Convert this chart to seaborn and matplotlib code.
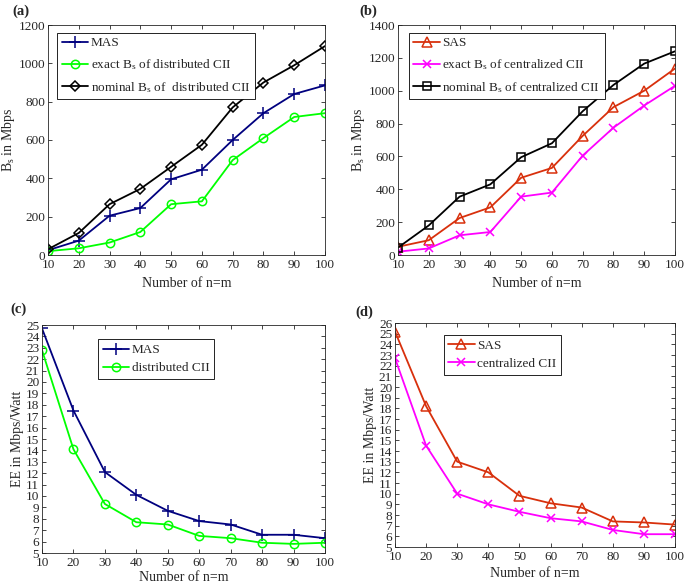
import numpy as np
import pandas as pd
import matplotlib
matplotlib.use('Agg')
import matplotlib.pyplot as plt
import seaborn as sns

# ---- data ----
n_vals = [10, 20, 30, 40, 50, 60, 70, 80, 90, 100]

mas_bs = [25, 75, 205, 245, 395, 445, 600, 740, 840, 885]
dist_exact_bs = [20, 35, 65, 120, 265, 280, 495, 610, 720, 740]
dist_nominal_bs = [30, 115, 265, 345, 460, 575, 770, 900, 990, 1090]

sas_bs = [50, 90, 225, 290, 470, 530, 725, 900, 1000, 1135]
cent_exact_bs = [20, 40, 120, 140, 355, 380, 605, 775, 910, 1030]
cent_nominal_bs = [45, 180, 355, 430, 595, 680, 875, 1035, 1165, 1240]

mas_ee = [24.7, 17.5, 12.1, 10.1, 8.7, 7.8, 7.5, 6.6, 6.6, 6.3]
dist_ee = [22.8, 14.1, 9.3, 7.7, 7.5, 6.5, 6.3, 5.9, 5.8, 5.9]

sas_ee = [25.2, 18.2, 13.0, 12.0, 9.8, 9.1, 8.7, 7.4, 7.3, 7.1]
cent_ee = [22.7, 14.5, 10.0, 9.0, 8.3, 7.7, 7.4, 6.6, 6.2, 6.2]

NAVY = '#00007f'
GREEN = '#00ff00'
RED = '#d8300c'
MAGENTA = '#ff00ff'

sns.set_style('ticks')
plt.rcParams['font.family'] = ['Liberation Serif', 'DejaVu Serif']
plt.rcParams['mathtext.fontset'] = 'custom'
plt.rcParams['mathtext.rm'] = 'Liberation Serif'
plt.rcParams['mathtext.it'] = 'Liberation Serif:italic'
plt.rcParams['xtick.direction'] = 'in'
plt.rcParams['ytick.direction'] = 'in'
plt.rcParams['xtick.top'] = True
plt.rcParams['ytick.right'] = True

FS = 9.5

fig = plt.figure(figsize=(6.85, 5.88), dpi=100)
W, H = 685.0, 588.0


def px_axes(l, t, r, b):
    return fig.add_axes([l / W, 1 - b / H, (r - l) / W, (b - t) / H])


def series(ax, y, color, marker, label, ms=6, hollow=False):
    sns.lineplot(x=n_vals, y=y, ax=ax, color=color, marker=marker, label=label,
                 linewidth=1.3, markersize=ms, markeredgecolor=color,
                 markeredgewidth=1.1,
                 markerfacecolor='none' if hollow else color)


def style(ax, ylabel, ylim, yticks, tag, tagx=-0.13, tagy=1.03, xpad=4):
    ax.set_xlim(10, 100)
    ax.set_xticks(n_vals)
    ax.set_ylim(*ylim)
    ax.set_yticks(yticks)
    ax.tick_params(labelsize=FS, length=3, width=0.6, pad=2)
    ax.tick_params(axis='x', pad=3)
    for s in ax.spines.values():
        s.set_linewidth(0.6)
        s.set_visible(True)
    ax.set_xlabel('Number of n=m', fontsize=FS + 0.5, labelpad=xpad)
    ax.set_ylabel(ylabel, fontsize=FS + 0.5, labelpad=1)
    ax.text(tagx, tagy, tag, transform=ax.transAxes, fontsize=FS + 1,
            fontweight='bold', ha='left', va='bottom')


def legend(ax, spacing=0.3, **kw):
    leg = ax.legend(fontsize=FS, frameon=True, fancybox=False, borderpad=0.35,
                    handlelength=2.0, handletextpad=0.2, labelspacing=spacing,
                    borderaxespad=0.4, **kw)
    leg.get_frame().set_edgecolor('black')
    leg.get_frame().set_linewidth(0.6)
    leg.get_frame().set_alpha(1)


# (a)
ax = px_axes(48, 25, 325, 255)
series(ax, mas_bs, NAVY, '+', 'MAS', ms=8)
series(ax, dist_exact_bs, GREEN, 'o', r'exact B$_\mathregular{s}$ of distributed CII', hollow=True)
series(ax, dist_nominal_bs, 'black', 'D', r'nominal B$_\mathregular{s}$ of  distributed CII', ms=5.5, hollow=True)
style(ax, r'B$_\mathregular{s}$ in Mbps', (0, 1200), range(0, 1201, 200), '(a)', tagx=-0.13)
legend(ax, spacing=0.6, loc='upper left', bbox_to_anchor=(0.015, 0.99))

# (b)
ax = px_axes(398, 25, 675, 255)
series(ax, sas_bs, RED, '^', 'SAS', ms=7, hollow=True)
series(ax, cent_exact_bs, MAGENTA, 'x', r'exact B$_\mathregular{s}$ of centralized CII', ms=6)
series(ax, cent_nominal_bs, 'black', 's', r'nominal B$_\mathregular{s}$ of centralized CII', ms=5.5, hollow=True)
style(ax, r'B$_\mathregular{s}$ in Mbps', (0, 1400), range(0, 1401, 200), '(b)', tagx=-0.14)
legend(ax, spacing=0.6, loc='upper left', bbox_to_anchor=(0.02, 0.99))

# (c)
ax = px_axes(42, 325, 325, 553)
series(ax, mas_ee, NAVY, '+', 'MAS', ms=8)
series(ax, dist_ee, GREEN, 'o', 'distributed CII', hollow=True)
style(ax, 'EE in Mbps/Watt', (5, 25), range(5, 26), '(c)', tagx=-0.11, tagy=1.04, xpad=1)
legend(ax, spacing=0.45, loc='upper left', bbox_to_anchor=(0.18, 0.96))

# (d)
ax = px_axes(395, 323, 675, 547)
series(ax, sas_ee, RED, '^', 'SAS', ms=7, hollow=True)
series(ax, cent_ee, MAGENTA, 'x', 'centralized CII', ms=6)
style(ax, 'EE in Mbps/Watt', (5, 26), range(5, 27), '(d)', tagx=-0.14, tagy=1.02, xpad=3)
legend(ax, spacing=0.45, loc='upper left', bbox_to_anchor=(0.155, 0.97))

fig.savefig('out.png', dpi=100)
